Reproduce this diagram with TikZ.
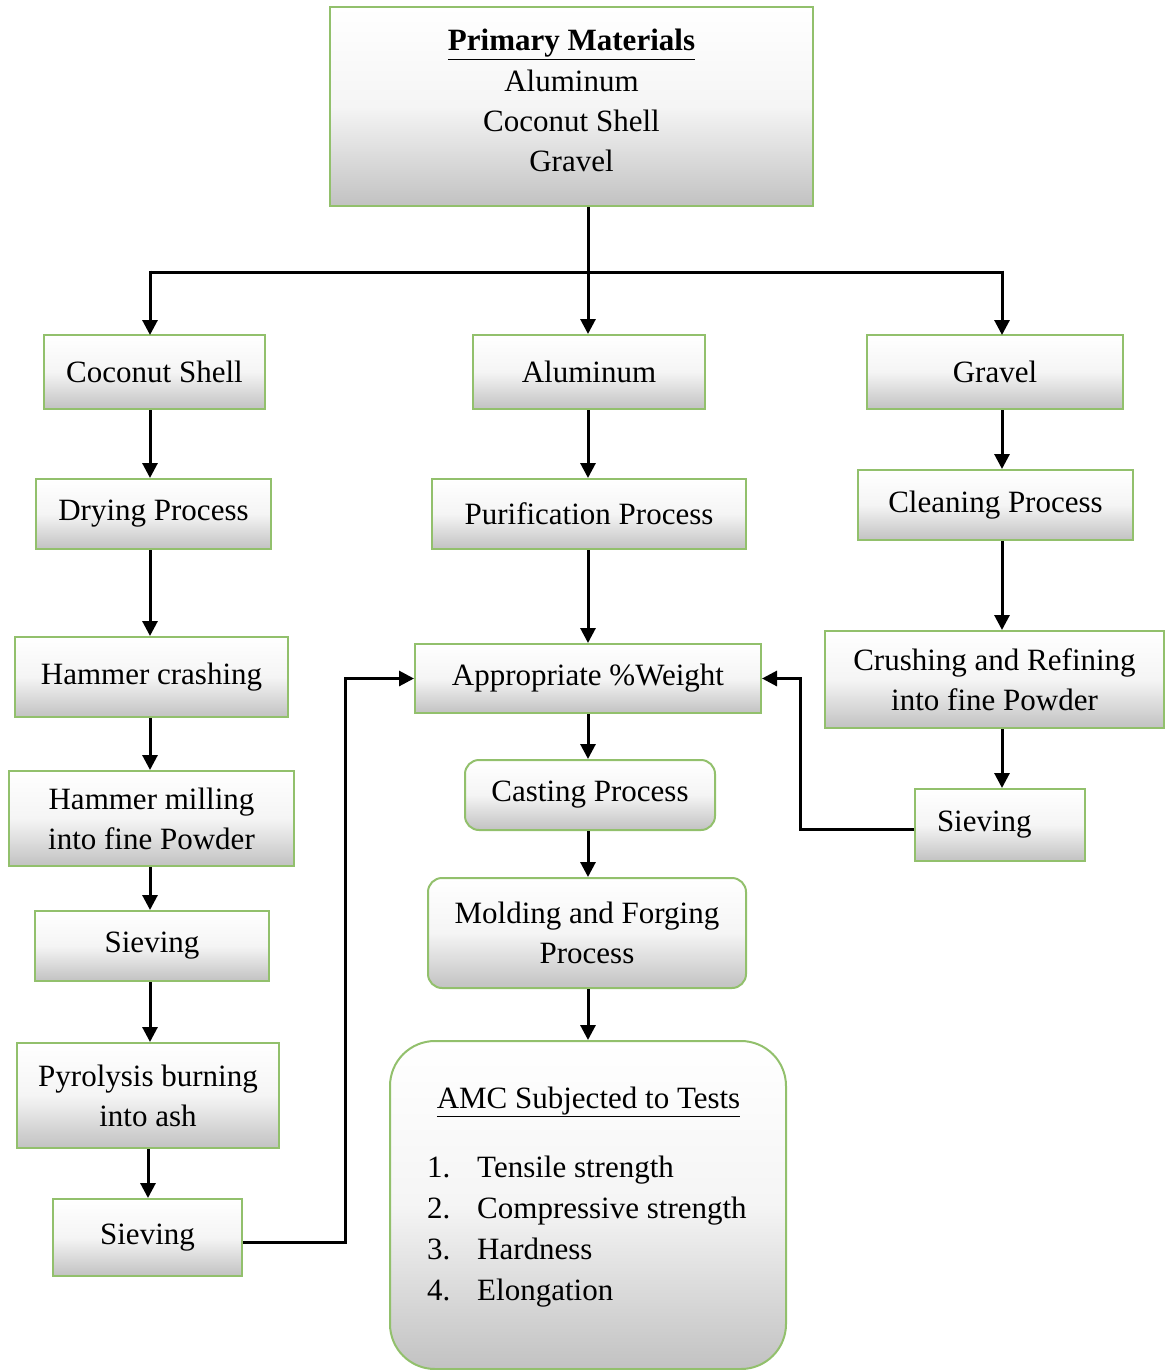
\documentclass[tikz,border=0pt]{standalone}
\usepackage{fontspec}
\setmainfont{Liberation Serif}
\usetikzlibrary{arrows.meta,calc}
\definecolor{boxgreen}{RGB}{146,192,108}
\tikzset{
  box/.style={draw=boxgreen, line width=2pt, top color=white, bottom color=black!24, middle color=white!96!black,
    align=center, inner sep=2pt, font=\fontsize{31}{40}\selectfont},
  rbox/.style={box, rounded corners=14pt},
  arr/.style={line width=3pt, -{Triangle[length=15pt,width=15pt]}},
  conn/.style={line width=3pt},
  txt/.style={font=\fontsize{31}{40}\selectfont, inner sep=0pt}
}
\begin{document}
\begin{tikzpicture}[x=1pt,y=-1pt]
\useasboundingbox (0,0) rectangle (1165,1370);
% nodes
\node[box, minimum width=483pt, minimum height=199pt] (prim) at (571.5,106.5) {};
\node[txt, align=center, anchor=north] (primt) at (571.5,29)
  {\underline{\textbf{Primary Materials}}\\[1pt]Aluminum\\Coconut Shell\\Gravel};
\node[box, minimum width=221pt, minimum height=74pt] (coco) at (154.5,372) {Coconut Shell};
\node[box, minimum width=232pt, minimum height=74pt] (alu) at (589,372) {Aluminum};
\node[box, minimum width=256pt, minimum height=74pt] (grav) at (995,372) {Gravel};
\node[box, minimum width=235pt, minimum height=70pt] (dry) at (153.5,514) {Drying Process};
\node[box, minimum width=314pt, minimum height=70pt] (pur) at (589,514) {Purification Process};
\node[box, minimum width=275pt, minimum height=70pt] (clean) at (995.5,505) {Cleaning Process};
\node[box, minimum width=273pt, minimum height=80pt] (hc) at (151.5,677) {Hammer crashing};
\node[box, minimum width=346pt, minimum height=69pt] (app) at (588,678.5) {Appropriate \%Weight};
\node[box, minimum width=339pt, minimum height=97pt] (crush) at (994.5,679.5) {Crushing and Refining\\into fine Powder};
\node[box, minimum width=285pt, minimum height=95pt] (hm) at (151.5,818.5) {Hammer milling\\into fine Powder};
\node[rbox, minimum width=250pt, minimum height=70pt] (cast) at (590,795) {Casting Process};
\node[box, minimum width=170pt, minimum height=72pt, text width=150pt, align=left] (sievR) at (1000,825) {\hspace*{12pt}Sieving};
\node[box, minimum width=234pt, minimum height=70pt] (siev1) at (152,946) {Sieving};
\node[rbox, minimum width=318pt, minimum height=110pt] (mold) at (587,933) {Molding and Forging\\Process};
\node[box, minimum width=262pt, minimum height=105pt] (pyro) at (148,1095.5) {Pyrolysis burning\\into ash};
\node[box, minimum width=189pt, minimum height=77pt] (siev2) at (147.5,1237.5) {Sieving};
\node[box, rounded corners=45pt, minimum width=396pt, minimum height=328pt] (amc) at (588,1205) {};
\node[txt, anchor=base] (amct) at (588.5,1108) {\underline{AMC Subjected to Tests}};
\node[txt, anchor=base west] (n1) at (427,1177) {1.};
\node[txt, anchor=base west] (n2) at (427,1218) {2.};
\node[txt, anchor=base west] (n3) at (427,1259) {3.};
\node[txt, anchor=base west] (n4) at (427,1300) {4.};
\node[txt, anchor=base west] (t1) at (477,1177) {Tensile strength};
\node[txt, anchor=base west] (t2) at (477,1218) {Compressive strength};
\node[txt, anchor=base west] (t3) at (477,1259) {Hardness};
\node[txt, anchor=base west] (t4) at (477,1300) {Elongation};
% top distribution
\coordinate (j) at (588,272);
\draw[arr] (prim.south -| j) -- (alu.north -| j);
\draw[conn] (150,272) -- (1002,272);
\draw[arr] (150,270.5) -- (150,335);
\draw[arr] (1002,270.5) -- (1002,335);
% left column
\draw[arr] (coco.south -| 150,0) -- (dry.north -| 150,0);
\draw[arr] (dry.south -| 150,0) -- (hc.north -| 150,0);
\draw[arr] (hc.south -| 150,0) -- (hm.north -| 150,0);
\draw[arr] (hm.south -| 150,0) -- (siev1.north -| 150,0);
\draw[arr] (siev1.south -| 150,0) -- (pyro.north -| 150,0);
\draw[arr] (pyro.south -| 148,0) -- (siev2.north -| 148,0);
% middle column
\draw[arr] (alu.south -| j) -- (pur.north -| j);
\draw[arr] (pur.south -| j) -- (app.north -| j);
\draw[arr] (app.south -| j) -- (cast.north -| j);
\draw[arr] (cast.south -| j) -- (mold.north -| j);
\draw[arr] (mold.south -| j) -- (amc.north -| j);
% right column
\draw[arr] (grav.south -| 1002,0) -- (clean.north -| 1002,0);
\draw[arr] (clean.south -| 1002,0) -- (crush.north -| 1002,0);
\draw[arr] (crush.south -| 1002,0) -- (sievR.north -| 1002,0);
% feedback lines
\draw[arr] (siev2.east |- 0,1242) -- (345,1242) |- (app.west);
\draw[arr] (sievR.west |- 0,829) -- (800,829) |- (app.east);
\end{tikzpicture}
\end{document}
